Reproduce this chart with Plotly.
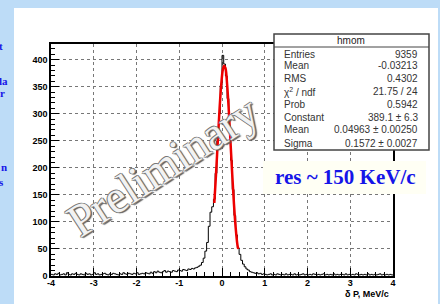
import numpy as np
import plotly.graph_objects as go

# ---------------- data ----------------
BIN_LO, BIN_HI = -4.0, 4.0
COUNTS = [
    3, 2, 4, 3, 5, 2, 3, 4, 2, 6, 3, 2, 4, 3, 5, 3, 2, 4, 3, 2,
    5, 3, 4, 2, 3, 6, 3, 4, 2, 3, 4, 5, 3, 2, 4, 3, 5, 4, 3, 2,
    4, 3, 6, 4, 3, 5, 4, 3, 5, 4, 6, 3, 4, 5, 4, 6, 5, 4, 7, 5,
    8, 6, 9, 7, 6, 8, 10, 7, 9, 8, 7, 10, 9, 8, 11,
    10, 9, 12, 11, 10, 13, 12, 14, 13, 15,
    16, 18, 20, 25, 33, 46, 62, 92, 118, 128,
    142, 190, 250, 300, 352, 408, 392, 370, 328, 272,
    214, 160, 112, 76, 52, 40, 29, 22, 17, 13,
    11, 8, 7, 6, 5, 6, 4, 5, 3, 4,
    3, 2, 3, 4, 2, 3, 2, 4, 3, 2, 3, 2, 4, 2, 3, 3, 2, 4, 2, 3,
    2, 3, 4, 2, 3, 2, 3, 2, 4, 3, 2, 3, 2, 3, 4, 2, 3, 2, 3, 2,
    4, 2, 3, 2, 3, 3, 2, 4, 2, 3, 2, 3, 2, 4, 3, 2, 3, 2, 3, 2,
    4, 2, 3, 2, 3, 2, 3, 4, 2, 3, 2, 3, 2, 3, 2,
]
FIT_X = [-0.18, -0.14, -0.10, -0.06, -0.02, 0.02, 0.05, 0.08, 0.12, 0.16,
         0.20, 0.24, 0.28, 0.32, 0.36, 0.38]
FIT_Y = [135, 188, 247, 305, 352, 382, 389, 385, 354, 305,
         246, 187, 133, 89, 58, 50]

XTICKS = [-4, -3, -2, -1, 0, 1, 2, 3, 4]
XTICK_LABELS = ["-4", "-3", "-2", "-1", "0", "1", "2", "3", "4"]
YTICKS = [0, 50, 100, 150, 200, 250, 300, 350, 400]
YTICK_LABELS = ["0", "50", "100", "150", "200", "250", "300", "350", "400"]

STAT_TITLE = "hmom"
STAT_NAMES = ["Entries", "Mean", "RMS", "χ<sup>2</sup> / ndf", "Prob",
              "Constant", "Mean", "Sigma"]
STAT_VALUES = ["9359", "-0.03213", "0.4302", "21.75 / 24", "0.5942",
               "389.1 ± 6.3", "0.04963 ± 0.00250", "0.1572 ± 0.0027"]

X_TITLE = "δ P, MeV/c"
RES_TEXT = "res ~ 150 KeV/c"
WATERMARK = "Preliminary"
SIDE_FRAGMENTS = ["t", "la", "r", "n", "s"]

# ---------------- layout helpers ----------------
W, H = 440, 304
ML, MR, MT, MB = 51, 47, 44, 28
PW, PH = W - ML - MR, H - MT - MB
YMAX = 429


def px(x):
    return (x - ML) / PW


def py(y):
    return (H - MB - y) / PH


n = len(COUNTS)
edges = np.linspace(BIN_LO, BIN_HI, n + 1)
hx = list(edges)
hy = list(COUNTS) + [COUNTS[-1]]

fig = go.Figure()
fig.add_trace(go.Scatter(x=hx, y=hy, mode="lines", line_shape="hv",
                         line=dict(color="black", width=1), hoverinfo="skip"))
fig.add_trace(go.Scatter(x=FIT_X, y=FIT_Y, mode="lines", line_shape="spline",
                         line=dict(color="#ee0000", width=2.5), hoverinfo="skip"))

axis_common = dict(showline=True, linecolor="black", linewidth=1.5, mirror=True,
                   ticks="inside", ticklen=8, tickcolor="black", tickwidth=1,
                   showgrid=True, gridcolor="#777", griddash="dot", gridwidth=1,
                   zeroline=False, automargin=False,
                   tickfont=dict(family="Liberation Sans", size=9, color="black",
                                 weight="bold"))
fig.update_xaxes(range=[BIN_LO, BIN_HI], tickmode="array", tickvals=XTICKS,
                 ticktext=XTICK_LABELS, ticklabelstandoff=-3,
                 minor=dict(ticks="inside", dtick=0.2, ticklen=4,
                            tickcolor="black", showgrid=False),
                 **axis_common)
fig.update_yaxes(range=[0, YMAX], tickmode="array", tickvals=YTICKS,
                 ticktext=YTICK_LABELS,
                 minor=dict(ticks="inside", dtick=10, ticklen=4,
                            tickcolor="black", showgrid=False),
                 **axis_common)

shapes = []
# white slide panel
shapes.append(dict(type="rect", xref="paper", yref="paper", layer="below",
                   x0=px(14), x1=px(438), y0=py(8), y1=py(306),
                   fillcolor="white", line=dict(width=0)))
# stats box
shapes.append(dict(type="rect", xref="paper", yref="paper", layer="above",
                   x0=px(274), x1=px(429), y0=py(34), y1=py(150),
                   fillcolor="white", line=dict(color="#444", width=1.5)))
shapes.append(dict(type="line", xref="paper", yref="paper", layer="above",
                   x0=px(274), x1=px(429), y0=py(47), y1=py(47),
                   line=dict(color="#444", width=1)))
# res label background
shapes.append(dict(type="rect", xref="paper", yref="paper", layer="above",
                   x0=px(263), x1=px(426), y0=py(161), y1=py(194),
                   fillcolor="#fffff4", line=dict(width=0)))

ann = []
ann.append(dict(text=STAT_TITLE, x=px(351), y=py(41), xref="paper", yref="paper",
                showarrow=False, xanchor="center", yanchor="middle",
                font=dict(family="Liberation Sans", size=10, color="#222")))
row_y = [54, 65.5, 78, 91.5, 104.5, 117.5, 129, 143]
for name, val, yy in zip(STAT_NAMES, STAT_VALUES, row_y):
    ann.append(dict(text=name, x=px(282), y=py(yy), xref="paper", yref="paper",
                    showarrow=False, xanchor="left", yanchor="middle",
                    font=dict(family="Liberation Sans", size=10, color="#333")))
    ann.append(dict(text=val, x=px(420), y=py(yy), xref="paper", yref="paper",
                    showarrow=False, xanchor="right", yanchor="middle",
                    font=dict(family="Liberation Sans", size=10, color="#333")))
ann.append(dict(text=RES_TEXT, x=px(345), y=py(177), xref="paper", yref="paper",
                showarrow=False, xanchor="center", yanchor="middle",
                font=dict(family="Liberation Serif", size=21, color="#1515e8",
                          weight="bold")))
ann.append(dict(text=X_TITLE, x=px(391), y=py(294), xref="paper", yref="paper",
                showarrow=False, xanchor="right", yanchor="middle",
                font=dict(family="Liberation Sans", size=9, color="black",
                          weight="bold")))
ann.append(dict(text=WATERMARK, x=px(162), y=py(166), xref="paper", yref="paper",
                showarrow=False, xanchor="center", yanchor="middle",
                textangle=-33,
                font=dict(family="Liberation Serif", size=46, color="#f2f2f2",
                          shadow="-1px 0 #777, 1px 0 #777, 0 -1px #777, 0 1px #777, 1px 2px 1px #555")))
frag_pos = [(5, 46), (10, 81), (7, 93), (9, 167), (6, 182)]
for t, (xx, yy) in zip(SIDE_FRAGMENTS, frag_pos):
    ann.append(dict(text=t, x=px(xx), y=py(yy), xref="paper", yref="paper",
                    showarrow=False, xanchor="right", yanchor="middle",
                    font=dict(family="Liberation Serif", size=11, color="#1515e8",
                              weight="bold")))

fig.update_layout(width=W, height=H, autosize=False,
                  margin=dict(l=ML, r=MR, t=MT, b=MB, pad=0),
                  paper_bgcolor="#bddcf7", plot_bgcolor="white",
                  showlegend=False, shapes=shapes, annotations=ann)

fig.write_html("out.html", config={"displayModeBar": False},
               post_script="document.body.style.margin='0';"
                           "document.body.style.overflow='hidden';")
